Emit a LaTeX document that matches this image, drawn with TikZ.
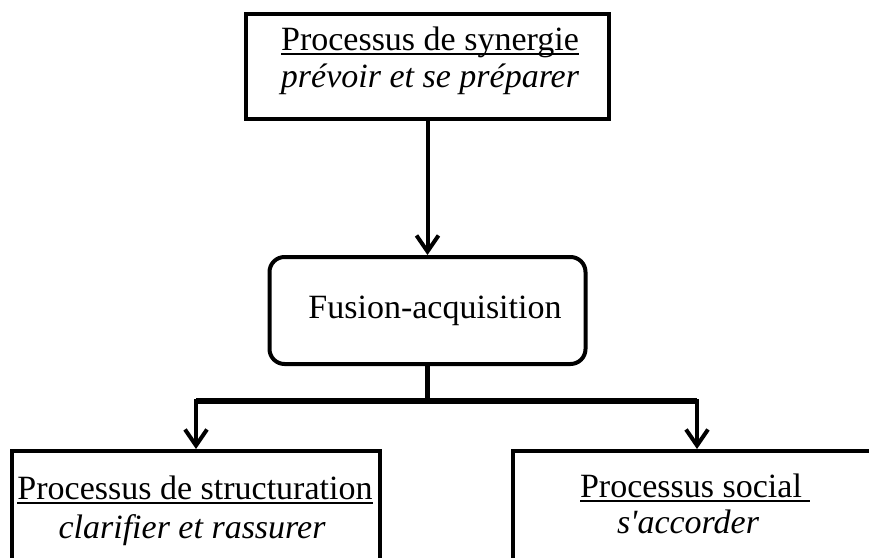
\documentclass[tikz,border=0pt]{standalone}
\usepackage{fontspec}
\setmainfont{Liberation Serif}
\usetikzlibrary{arrows.meta}
\newlength{\proclen}
\newcommand{\procul}[1]{\settowidth{\proclen}{#1}\rlap{\rule[-4.5pt]{\proclen}{1.6pt}}#1}
\begin{document}
\begin{tikzpicture}[x=1pt,y=-1pt]
            \tikzstyle{procbox}=[draw,line width=4pt,minimum width=368pt,minimum height=160pt]
            \tikzstyle{titre}=[anchor=base,inner sep=0pt,font=\fontsize{34}{37}\selectfont]
            \tikzstyle{soustitre}=[titre,font=\fontsize{34}{37}\selectfont\itshape]
            \tikzstyle{fleche}=[line width=4pt,-{Straight Barb[length=16pt,width=22pt]}]
            \tikzstyle{fleches}=[line width=4pt,{Straight Barb[length=16pt,width=22pt]}-{Straight Barb[length=16pt,width=22pt]}]

            \useasboundingbox (0,0) rectangle (869,557);
            \clip (0,0) rectangle (869,557);

            %top_box
            \node[procbox,minimum width=363pt,minimum height=105pt] (synergie) at (427.5,66.5) {};
            \node[titre] (synergieA) at (430,50) {\procul{Processus de synergie}};
            \node[soustitre] (synergieB) at (430,87) {prévoir et se préparer};

            %middle_box
            \node[procbox,rounded corners=15pt,minimum width=316pt,minimum height=107pt] (fusion) at (427.5,310.5) {};
            \node[titre] (fusionA) at (435,318) {Fusion-acquisition};

            %bottom_boxes
            \node[procbox] (structuration) at (196,531) {};
            \node[titre] (structurationA) at (195,499) {\procul{Processus de structuration}};
            \node[soustitre] (structurationB) at (192,538) {clarifier et rassurer};

            \node[procbox] (social) at (697,531) {};
            \node[titre] (socialA) at (691,497) {\procul{Processus social\ }};
            \node[soustitre] (socialB) at (688,533) {s\textquotesingle accorder};

            %arrows
            \coordinate (branche) at (427.5,401);
            \draw[fleche] (synergie) -- (fusion);
            \draw[line width=5pt] (fusion) -- (branche);
            \draw[fleches] (structuration) |- (branche) -| (social);
            \draw[line width=6pt] (branche -| structuration) -- (branche -| social);

\end{tikzpicture}
\end{document}
